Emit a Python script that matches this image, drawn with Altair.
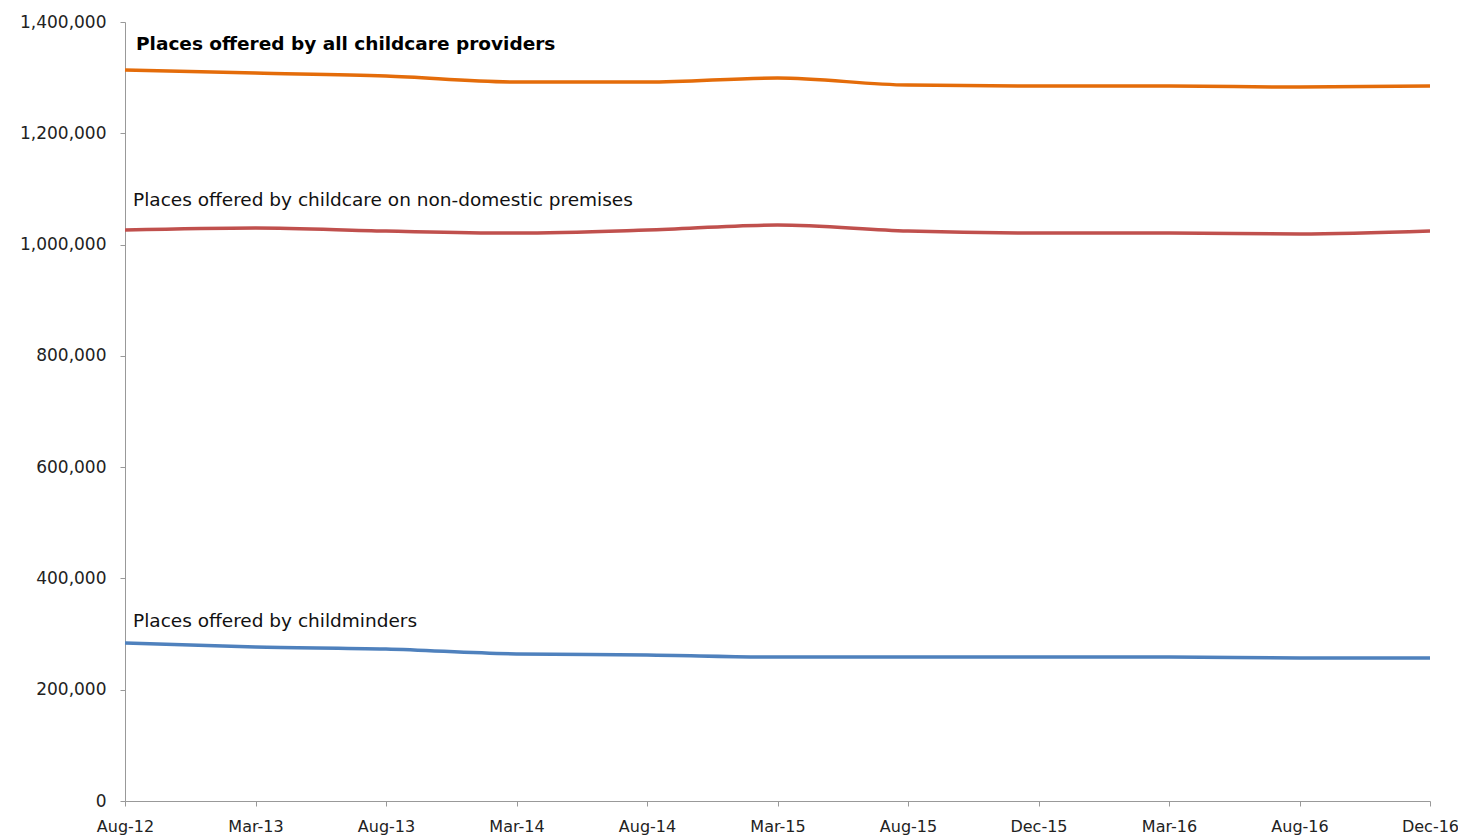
import altair as alt
import pandas as pd

periods = ["Aug-12", "Mar-13", "Aug-13", "Mar-14", "Aug-14", "Mar-15",
           "Aug-15", "Dec-15", "Mar-16", "Aug-16", "Dec-16"]
all_providers = [1313600, 1308200, 1302800, 1292000, 1292000, 1299200,
                 1286600, 1284800, 1284800, 1283000, 1284800]
non_domestic = [1026000, 1029700, 1024300, 1020700, 1026000, 1035000,
                1024300, 1020700, 1020700, 1019000, 1024300]
childminders = [283900, 276700, 273100, 264200, 262400, 258800,
                258800, 258800, 258800, 257000, 257000]
series_names = ["Places offered by all childcare providers",
                "Places offered by childcare on non-domestic premises",
                "Places offered by childminders"]
series_colors = ["#E46C0A", "#C0504D", "#4F81BD"]
y_ticks = [0, 200000, 400000, 600000, 800000, 1000000, 1200000, 1400000]

rows = []
for name, vals in zip(series_names, [all_providers, non_domestic, childminders]):
    for p, v in zip(periods, vals):
        rows.append({"period": p, "value": v, "series": name})
df = pd.DataFrame(rows)

FONT = "DejaVu Sans"
LABEL_FS = 18.5

x_axis = alt.Axis(title=None, labelAngle=0, labelFont=FONT, labelFontSize=16,
                  labelColor="#222222", domainColor="#999999", tickColor="#999999",
                  tickSize=5, labelPadding=12, grid=False)
y_axis = alt.Axis(title=None, values=y_ticks, format=",.0f", labelFont=FONT,
                  labelFontSize=17, labelColor="#222222", domainColor="#999999",
                  tickColor="#999999", tickSize=5, labelPadding=14, grid=False)
x_scale = alt.Scale(type="point", padding=0)
y_scale = alt.Scale(domain=[0, 1400000], nice=False)

x_enc = alt.X("period:N", sort=periods, scale=x_scale, axis=x_axis)
y_enc = alt.Y("value:Q", scale=y_scale, axis=y_axis)
color_enc = alt.Color("series:N", scale=alt.Scale(domain=series_names, range=series_colors),
                      legend=None)

lines = alt.Chart(df).mark_line(strokeWidth=3.5, interpolate="monotone").encode(
    x=x_enc, y=y_enc, color=color_enc)

first = df[df["period"] == periods[0]]


def label(idx, dx, dy, weight):
    return alt.Chart(first[first["series"] == series_names[idx]]).mark_text(
        align="left", baseline="middle", dx=dx, dy=dy, font=FONT, fontSize=LABEL_FS,
        fontWeight=weight, color="#000000" if weight == "bold" else "#111111").encode(
        x=alt.X("period:N", sort=periods, scale=x_scale, axis=x_axis),
        y=alt.Y("value:Q", scale=y_scale, axis=y_axis),
        text="series:N")


chart = alt.layer(lines, label(0, 11, -26, "bold"), label(1, 8, -30, "normal"),
                  label(2, 8, -22, "normal")).properties(
    width=1305, height=779,
    background="white",
    autosize=alt.AutoSizeParams(type="none"),
    padding={"left": 117, "top": 14, "right": 28, "bottom": 38},
).configure_view(stroke=None)

chart.save("out.html", embed_options={"renderer": "svg", "actions": False})
